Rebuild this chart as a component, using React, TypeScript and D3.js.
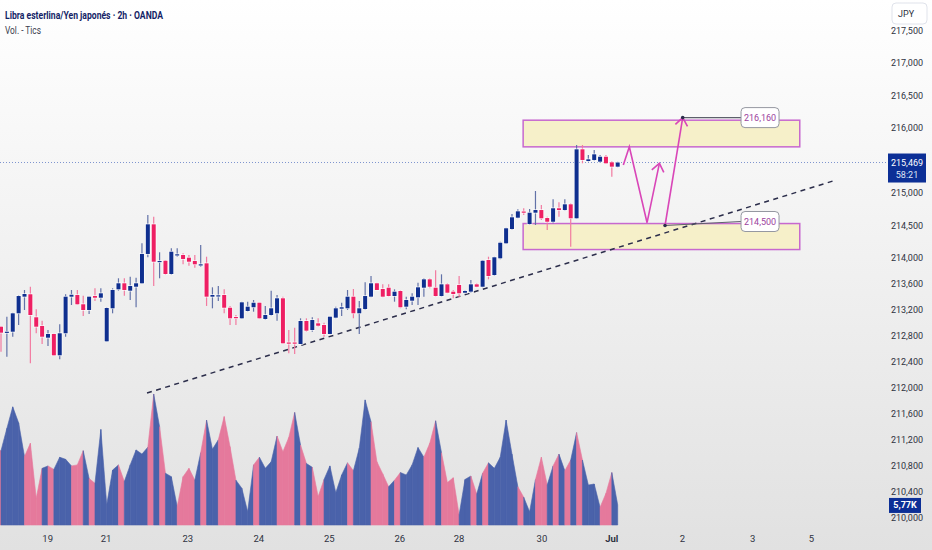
import * as d3 from 'd3';

// GBP/JPY 2h candles, left to right
const opens = [
  212.943, 212.857, 212.866, 213.149, 213.405, 213.442, 213.088, 212.954, 212.774, 212.831,
  212.503, 212.842, 213.405, 213.431, 213.288, 213.200, 213.415, 213.389, 212.718, 213.226,
  213.518, 213.611, 213.497, 213.558, 213.611, 214.062, 214.518, 213.949, 213.958, 213.754,
  214.051, 214.046, 214.005, 213.954, 213.898, 213.918, 213.405, 213.423, 213.431, 213.235,
  213.092, 213.072, 213.185, 213.242, 213.312, 213.062, 213.123, 213.149, 213.380, 212.700,
  212.700, 212.677, 213.031, 212.892, 212.995, 212.969, 212.831, 213.082, 213.220, 213.226,
  213.405, 213.149, 213.215, 213.405, 213.611, 213.523, 213.543, 213.415, 213.492, 213.251,
  213.343, 213.395, 213.543, 213.672, 213.543, 213.415, 213.595, 213.482, 213.585, 213.466,
  213.482, 213.595, 213.558, 213.969, 213.738, 213.995, 214.226, 214.446, 214.620, 214.715,
  214.523, 214.697, 214.738, 214.615, 214.558, 214.765, 214.738, 214.826, 214.611, 215.672,
  215.492, 215.508, 215.482, 215.558, 215.472, 215.405,
];
const highs = [
  212.954, 213.097, 213.158, 213.431, 213.508, 213.558, 213.211, 213.035, 212.892, 212.838,
  212.980, 213.442, 213.508, 213.508, 213.420, 213.405, 213.534, 213.534, 213.242, 213.534,
  213.688, 213.688, 213.712, 213.697, 214.226, 214.662, 214.635, 214.088, 213.969, 214.149,
  214.149, 214.072, 214.046, 214.046, 214.200, 214.020, 213.549, 213.569, 213.518, 213.262,
  213.123, 213.328, 213.328, 213.354, 213.312, 213.262, 213.497, 213.431, 213.405, 212.892,
  212.928, 213.072, 213.072, 213.088, 213.072, 213.005, 213.097, 213.251, 213.312, 213.508,
  213.523, 213.338, 213.626, 213.723, 213.620, 213.595, 213.595, 213.518, 213.508, 213.405,
  213.457, 213.620, 213.688, 213.688, 213.811, 213.749, 213.611, 213.508, 213.723, 213.508,
  213.662, 213.611, 213.969, 214.020, 214.020, 214.251, 214.466, 214.677, 214.749, 214.765,
  214.754, 215.031, 214.815, 214.635, 214.903, 214.857, 214.903, 214.842, 215.738, 215.738,
  215.585, 215.662, 215.585, 215.585, 215.492, 215.480,
];
const lows = [
  212.558, 212.482, 212.789, 212.969, 213.200, 212.380, 212.842, 212.677, 212.646, 212.492,
  212.442, 212.789, 213.277, 213.277, 213.108, 213.138, 213.338, 213.328, 212.712, 213.149,
  213.497, 213.420, 213.354, 213.242, 213.600, 214.011, 213.569, 213.688, 213.738, 213.738,
  214.020, 213.903, 213.882, 213.851, 213.866, 213.262, 213.226, 213.338, 213.149, 212.969,
  212.969, 213.062, 213.174, 213.174, 213.062, 213.046, 213.108, 213.035, 212.677, 212.534,
  212.523, 212.677, 212.866, 212.866, 212.943, 212.789, 212.826, 213.072, 213.108, 213.200,
  213.072, 212.831, 213.200, 213.395, 213.508, 213.395, 213.405, 213.328, 213.226, 213.211,
  213.277, 213.277, 213.405, 213.534, 213.405, 213.405, 213.457, 213.380, 213.395, 213.457,
  213.466, 213.549, 213.549, 213.672, 213.723, 213.980, 214.215, 214.431, 214.611, 214.662,
  214.508, 214.508, 214.585, 214.431, 214.534, 214.635, 214.728, 214.174, 214.600, 215.457,
  215.482, 215.492, 215.466, 215.446, 215.251, 215.395,
];
const closes = [
  212.851, 212.866, 213.149, 213.415, 213.446, 213.123, 212.943, 212.789, 212.831, 212.503,
  212.842, 213.405, 213.435, 213.288, 213.200, 213.405, 213.389, 213.457, 213.231, 213.508,
  213.611, 213.508, 213.569, 213.611, 214.062, 214.518, 213.943, 213.954, 213.754, 214.097,
  214.057, 213.985, 213.943, 213.903, 213.903, 213.405, 213.431, 213.426, 213.235, 213.072,
  213.085, 213.318, 213.251, 213.312, 213.072, 213.123, 213.226, 213.380, 212.688, 212.694,
  212.694, 213.031, 212.882, 213.046, 212.958, 212.831, 213.097, 213.226, 213.242, 213.405,
  213.149, 213.226, 213.415, 213.611, 213.508, 213.405, 213.415, 213.482, 213.242, 213.354,
  213.405, 213.549, 213.672, 213.558, 213.415, 213.595, 213.466, 213.446, 213.457, 213.492,
  213.595, 213.558, 213.958, 213.723, 214.011, 214.235, 214.457, 214.626, 214.718, 214.710,
  214.697, 214.738, 214.611, 214.558, 214.765, 214.738, 214.826, 214.611, 215.672, 215.508,
  215.518, 215.595, 215.558, 215.457, 215.405, 215.469,
];
// tick volume, thousands
const volumes = [
  21.4, 27.8, 34.0, 29.4, 19.7, 23.5, 7.7, 16.3, 17.0, 16.0,
  19.5, 18.9, 17.0, 17.3, 21.4, 13.4, 12.0, 27.5, 5.8, 15.8,
  17.3, 12.5, 17.3, 21.6, 20.4, 22.4, 37.7, 28.3, 14.9, 13.9,
  5.3, 13.9, 16.3, 12.9, 20.8, 30.2, 21.8, 24.5, 31.2, 22.5,
  12.9, 10.6, 3.8, 17.3, 19.5, 16.3, 18.2, 25.6, 21.1, 25.2,
  32.4, 23.0, 17.7, 16.6, 8.2, 13.1, 17.0, 9.3, 14.4, 17.9,
  15.6, 22.1, 36.0, 29.7, 18.2, 14.7, 11.0, 12.9, 15.1, 14.4,
  17.3, 22.3, 19.5, 23.5, 30.0, 20.8, 12.2, 13.6, 2.9, 13.1,
  14.1, 8.9, 14.9, 17.9, 16.3, 19.5, 30.2, 20.4, 11.0, 8.0,
  3.8, 13.1, 19.5, 11.5, 17.0, 20.4, 15.6, 18.7, 26.6, 18.7,
  11.5, 11.8, 5.1, 9.1, 15.1, 5.77,
];

// x axis labels and the bar index they sit on
const dateLabels = ['19', '21', '23', '24', '25', '26', '28', '30', 'Jul', '2', '3', '5'];
const dateIndex = [7.95, 17.9, 31.8, 43.9, 55.9, 67.9, 78.0, 92.1, 104, 116, 128, 138];
const priceTicks = [217.5, 217, 216.5, 216, 215, 214.5, 214, 213.6, 213.2, 212.8, 212.4, 212, 211.6, 211.2, 210.8, 210.4, 210];

// drawings
const trendIdx = [24.86, 141.67];
const trendPrice = [211.923, 215.185];
const zoneTop = [216.12, 214.53];
const zoneBottom = [215.71, 214.13];
const zoneIdx = [88.9, 136];
const pathIdx = [105.96, 106.98, 110.0, 112.1];
const pathPrice = [215.431, 215.712, 214.543, 215.457];
const targetIdx = [113.06, 116.07];
const targetPrice = [214.5, 216.16];
const levelPrice = [216.16, 214.5];
const levelPointIdx = [116.07, 113.06];
const levelLabelIdx = 126;

const W = 932;
const H = 550;
const UP = '#0f2f8f';
const DOWN = '#ee1f63';
const UP_WICK = '#6272a8';
const DOWN_WICK = '#f27aa0';
const VOL_UP = '#4a62aa';
const VOL_DOWN = '#e5799c';
const MAGENTA = '#d946b8';
const FONT = 'Roboto, sans-serif';

const fmt = (v: number) => d3.format('.3f')(v).replace('.', ',');

function arrowHead(x1: number, y1: number, x2: number, y2: number, len = 10, ang = 0.66) {
  const a = Math.atan2(y1 - y2, x1 - x2);
  const p1 = [x2 + len * Math.cos(a + ang), y2 + len * Math.sin(a + ang)];
  const p2 = [x2 + len * Math.cos(a - ang), y2 + len * Math.sin(a - ang)];
  return `M${p1[0]},${p1[1]}L${x2},${y2}L${p2[0]},${p2[1]}`;
}

export default function App() {
  const x = d3.scaleLinear().domain([0, 105]).range([1, 617.7]);
  const y = d3.scaleLinear().domain([210, 214]).range([518, 258]);
  const yV = d3.scaleLinear().domain([0, 40]).range([525, 386]);
  const n = closes.length;
  const last = closes[n - 1];
  const isUp = (i: number) => closes[i] >= opens[i];

  const volArea = d3.area<[number, number]>()
    .x(d => d[0])
    .y0(yV(0))
    .y1(d => d[1]);

  const segs = d3.range(n).map(i => {
    const x0 = i === 0 ? 0 : x(i - 1);
    const v0 = i === 0 ? volumes[0] : volumes[i - 1];
    return { d: volArea([[x0, yV(v0)], [x(i), yV(volumes[i])]]) as string, up: isUp(i) };
  });

  const pathLine = d3.line<number>().x(i => x(pathIdx[i])).y(i => y(pathPrice[i]));
  const pIdx = d3.range(pathIdx.length);
  const pl = pIdx.length - 1;

  return (
    <div style={{ position: 'absolute', left: 0, top: 0 }}>
      <svg width={W} height={H} style={{ display: 'block' }} fontFamily={FONT}>
        <defs>
          <linearGradient id="bg" x1="0" y1="0" x2="0" y2="1">
            <stop offset="0%" stopColor="#ffffff" />
            <stop offset="100%" stopColor="#e1e1e1" />
          </linearGradient>
        </defs>
        <rect width={W} height={H} fill="url(#bg)" />

        {/* volume */}
        {segs.map((s, i) => (
          <path key={'v' + i} d={s.d} fill={s.up ? VOL_UP : VOL_DOWN} stroke={s.up ? VOL_UP : VOL_DOWN} strokeWidth={0.6} />
        ))}

        {/* zones */}
        {zoneTop.map((t, k) => (
          <rect key={'z' + k} x={x(zoneIdx[0])} y={y(t)} width={x(zoneIdx[1]) - x(zoneIdx[0])}
            height={y(zoneBottom[k]) - y(t)} fill="#f6f0c9" stroke="#c768cf" strokeWidth={1.5} />
        ))}

        {/* last price line */}
        <line x1={0} x2={888} y1={y(last)} y2={y(last)} stroke="#7f95cf" strokeWidth={1} strokeDasharray="1,2" />

        {/* trend line */}
        <line x1={x(trendIdx[0])} y1={y(trendPrice[0])} x2={x(trendIdx[1])} y2={y(trendPrice[1])}
          stroke="#2b2d4a" strokeWidth={1.5} strokeDasharray="5,4.5" />

        {/* candles */}
        {d3.range(n).map(i => {
          const cx = x(i);
          const up = isUp(i);
          const top = y(Math.max(opens[i], closes[i]));
          const bot = y(Math.min(opens[i], closes[i]));
          const h = Math.max(1.2, bot - top);
          return (
            <g key={'c' + i}>
              <line x1={cx} x2={cx} y1={y(highs[i])} y2={y(lows[i])} stroke={up ? UP_WICK : DOWN_WICK} strokeWidth={1.2} />
              <rect x={cx - 2.8} y={top - 0.8} width={5.6} height={h + 1.6} fill="#ffffff" opacity={0.75} />
              <rect x={cx - 2} y={top} width={4} height={h} fill={up ? UP : DOWN} />
            </g>
          );
        })}

        {/* projected path */}
        <path d={pathLine(pIdx) as string} fill="none" stroke={MAGENTA} strokeWidth={1.6} strokeLinejoin="miter" />
        <path d={arrowHead(x(pathIdx[pl - 1]), y(pathPrice[pl - 1]), x(pathIdx[pl]), y(pathPrice[pl]))}
          fill="none" stroke={MAGENTA} strokeWidth={1.6} />
        <line x1={x(targetIdx[0])} y1={y(targetPrice[0])} x2={x(targetIdx[1])} y2={y(targetPrice[1])} stroke={MAGENTA} strokeWidth={1.6} />
        <path d={arrowHead(x(targetIdx[0]), y(targetPrice[0]), x(targetIdx[1]), y(targetPrice[1]))}
          fill="none" stroke={MAGENTA} strokeWidth={1.6} />

        {/* price level labels */}
        {levelPrice.map((p, k) => {
          const px = x(levelPointIdx[k]);
          const py = y(p);
          const bx = x(levelLabelIdx);
          const by = k === 0 ? py : py - 4;
          return (
            <g key={'l' + k}>
              <line x1={px} y1={py} x2={bx} y2={by} stroke="#5d606b" strokeWidth={1.2} />
              <circle cx={px} cy={py} r={1.8} fill="#2b2d4a" />
              <rect x={bx} y={by - 10} width={38} height={20} rx={4} fill="#ffffff" stroke="#9598a1" strokeWidth={1} />
              <text x={bx + 19} y={by + 3.2} textAnchor="middle" fontSize={9} fill="#9c3f9e">{fmt(p)}</text>
            </g>
          );
        })}

        {/* price axis */}
        {priceTicks.map(t => (
          <text key={'p' + t} x={923} y={y(t) + 3.2} textAnchor="end" fontSize={9} fill="#2f3241">{fmt(t)}</text>
        ))}
        <rect x={892} y={3} width={35} height={21} rx={4} fill="#ffffff" stroke="#e0e3eb" />
        <text x={898} y={17} fontSize={9} fill="#2f3241">JPY</text>

        <rect x={888} y={y(last) - 9} width={38} height={29} fill="#0c2f96" />
        <text x={907} y={y(last) + 3.2} textAnchor="middle" fontSize={9} fill="#ffffff">{fmt(last)}</text>
        <text x={907} y={y(last) + 15.5} textAnchor="middle" fontSize={9} fill="#dfe4f5">58:21</text>

        <rect x={889} y={yV(volumes[n - 1]) - 7} width={32} height={15} fill="#0c2f96" />
        <text x={905} y={yV(volumes[n - 1]) + 3.5} textAnchor="middle" fontSize={9} fontWeight="bold" fill="#ffffff">
          {d3.format('.2f')(volumes[n - 1]).replace('.', ',')}K
        </text>

        {/* time axis */}
        {dateLabels.map((d, k) => (
          <text key={'d' + k} x={x(dateIndex[k])} y={541.5} textAnchor="middle" fontSize={9.5}
            fontWeight={d === 'Jul' ? 'bold' : 'normal'} fill="#2f3241">{d}</text>
        ))}

        {/* header */}
        <text x={5} y={18.5} fontSize={10.5} fontWeight="bold" fill="#141f66" textLength={158} lengthAdjust="spacingAndGlyphs">
          Libra esterlina/Yen japonés · 2h · OANDA
        </text>
        <text x={5} y={33.5} fontSize={10.5} fill="#3a3e4f" textLength={36} lengthAdjust="spacingAndGlyphs">Vol. - Tics</text>
      </svg>
    </div>
  );
}
